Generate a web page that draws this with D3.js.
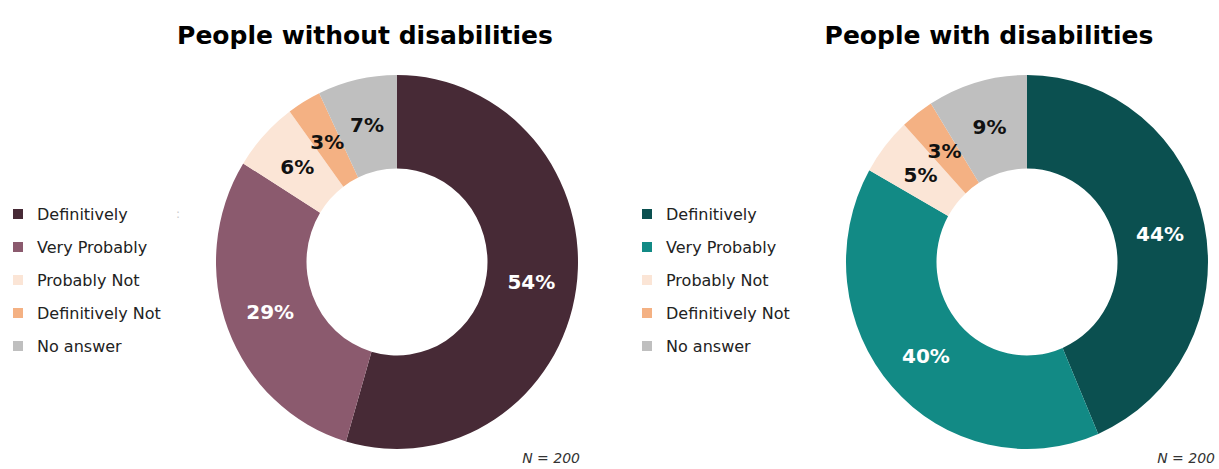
<!DOCTYPE html>
<html><head><meta charset="utf-8">
<script src="https://cdn.jsdelivr.net/npm/d3@7"></script>
<style>body{margin:0;background:#fff}svg{display:block}</style>
</head><body>
<svg id="chart" width="1219" height="469"></svg>
<script>
const categories = ["Definitively","Very Probably","Probably Not","Definitively Not","No answer"];
const withoutValues = [54,29,6,3,7];
const withValues = [44,40,5,3,9];
const titles = ["People without disabilities","People with disabilities"];
const sampleLabel = "N = 200";
const colorsWithout = ["#472a36","#8b5a6e","#fbe5d6","#f4b183","#bfbfbf"];
const colorsWith = ["#0b5050","#128a85","#fbe5d6","#f4b183","#bfbfbf"];
const labelColors = ["#ffffff","#ffffff","#111111","#111111","#111111"];

const svg = d3.select("#chart");
const font = "'DejaVu Sans', Verdana, sans-serif";

const panels = [
  {values: withoutValues, colors: colorsWithout, title: titles[0], cx: 397, cy: 262, r: 181, titleX: 365, legX: 13, nX: 580},
  {values: withValues, colors: colorsWith, title: titles[1], cx: 1027, cy: 262, r: 181, titleX: 989, legX: 642, nX: 1215}
];
const yStretch = 1.033;

panels.forEach(p => {
  const g = svg.append("g");
  g.append("text").attr("x", p.titleX).attr("y", 44).attr("text-anchor","middle")
    .attr("font-family", font).attr("font-weight","bold").attr("font-size", 25)
    .attr("fill","#000").text(p.title);

  const pie = d3.pie().sort(null).value(d => d.v);
  const data = pie(categories.map((c,i)=>({c, v:p.values[i], i})));
  const inner = p.r * 0.5;
  const arc = d3.arc().innerRadius(inner).outerRadius(p.r);
  const labelArc = d3.arc().innerRadius((inner+p.r)/2).outerRadius((inner+p.r)/2);
  const dg = g.append("g").attr("transform", `translate(${p.cx},${p.cy}) scale(1,${yStretch})`);
  dg.selectAll("path").data(data).join("path")
    .attr("d", arc).attr("fill", d => p.colors[d.data.i]);
  const lg = g.append("g").attr("transform", `translate(${p.cx},${p.cy})`);
  lg.selectAll("text").data(data).join("text")
    .attr("transform", d => { const c = labelArc.centroid(d); return `translate(${c[0]},${c[1]*yStretch})`; })
    .attr("text-anchor","middle").attr("dominant-baseline","central")
    .attr("font-family", font).attr("font-weight","bold").attr("font-size", 20)
    .attr("fill", d => labelColors[d.data.i]).text(d => d.data.v + "%");

  const leg = g.append("g").attr("transform", `translate(${p.legX},0)`);
  categories.forEach((c,i) => {
    const y = 214 + i*33;
    leg.append("rect").attr("x",0).attr("y",y-5).attr("width",10).attr("height",10).attr("fill",p.colors[i]);
    leg.append("text").attr("x",24).attr("y",y).attr("dominant-baseline","central")
      .attr("font-family","Tahoma, 'DejaVu Sans', sans-serif").attr("font-size",16).attr("fill","#222").text(c);
  });

  g.append("text").attr("x", p.nX).attr("y", 463).attr("text-anchor","end")
    .attr("font-family", font).attr("font-style","italic").attr("font-size",14)
    .attr("fill","#333").text(sampleLabel);
});
svg.append("text").attr("x",176).attr("y",214).attr("dominant-baseline","central")
  .attr("font-family",font).attr("font-size",12).attr("fill","#ccc").text(":");
</script>
</body></html>
